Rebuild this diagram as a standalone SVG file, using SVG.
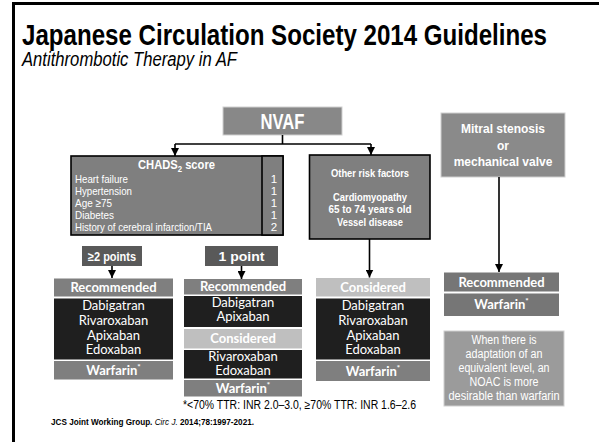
<svg xmlns="http://www.w3.org/2000/svg" width="599" height="442" viewBox="0 0 599 442">
  <defs>
    <marker id="ah" viewBox="0 0 8 8" refX="8" refY="4" markerWidth="8" markerHeight="8" markerUnits="userSpaceOnUse" orient="auto">
      <path d="M0,0 L8,4 L0,8 z" fill="#000"/>
    </marker>
    <style>
      .a { font-family: "Liberation Sans", Arial, sans-serif; }
      .c { font-family: Lato, "Open Sans", sans-serif; }
      .w { fill: #ffffff; }
      .b { font-weight: bold; }
      .m { text-anchor: middle; }
      .mid { fill: #7f7f7f; }
      .dark { fill: #1f1f1f; }
      .light { fill: #bfbfbf; }
      .edge { stroke: #cfcfcf; stroke-width: 1; }
      .conn { stroke: #000; stroke-width: 1.6; fill: none; }
      .drug { font-family: Lato, "Open Sans", sans-serif; font-size: 13px; fill: #ffffff; text-anchor: middle; }
      .hdr { font-family: Lato, "Open Sans", sans-serif; font-size: 13px; font-weight: bold; fill: #ffffff; text-anchor: middle; }
    </style>
  </defs>

  <rect x="0" y="0" width="599" height="442" fill="#ffffff"/>

  <g id="frame">
    <line x1="13" y1="3.5" x2="599" y2="3.5" stroke="#000" stroke-width="3"/>
    <line x1="13.5" y1="2" x2="13.5" y2="442" stroke="#000" stroke-width="3"/>
  </g>

  <g id="title">
    <text class="a b" x="22" y="45" font-size="30" fill="#000" textLength="525" lengthAdjust="spacingAndGlyphs">Japanese Circulation Society 2014 Guidelines</text>
    <text class="a" x="22" y="66" font-size="20" font-style="italic" fill="#000" textLength="215" lengthAdjust="spacingAndGlyphs">Antithrombotic Therapy in AF</text>
  </g>

  <g id="nvaf">
    <rect x="223" y="107" width="119" height="28" fill="#888888" class="edge"/>
    <text class="a b w m" x="282.5" y="128.5" font-size="22" textLength="44" lengthAdjust="spacingAndGlyphs">NVAF</text>
  </g>

  <g id="chads">
    <rect x="71" y="156" width="212" height="79" fill="#7f7f7f" stroke="#000" stroke-width="1.6"/>
    <rect x="262" y="156" width="21" height="79" fill="#7f7f7f" stroke="#000" stroke-width="1.6"/>
    <text class="a b w m" transform="translate(176.5,169) scale(0.86,1)" x="0" y="0" font-size="13">CHADS<tspan font-size="9" dy="3">2</tspan><tspan dy="-3"> score</tspan></text>
    <text class="a w" x="75" y="182.5" font-size="11.5" textLength="53" lengthAdjust="spacingAndGlyphs">Heart failure</text>
    <text class="a w" x="75" y="194.5" font-size="11.5" textLength="57" lengthAdjust="spacingAndGlyphs">Hypertension</text>
    <text class="a w" x="75" y="206.5" font-size="11.5" textLength="37" lengthAdjust="spacingAndGlyphs">Age ≥75</text>
    <text class="a w" x="75" y="218.5" font-size="11.5" textLength="39" lengthAdjust="spacingAndGlyphs">Diabetes</text>
    <text class="a w" x="75" y="230.5" font-size="11.5" textLength="137" lengthAdjust="spacingAndGlyphs">History of cerebral infarction/TIA</text>
    <text class="a w m" x="274" y="182.5" font-size="11.5">1</text>
    <text class="a w m" x="274" y="194.5" font-size="11.5">1</text>
    <text class="a w m" x="274" y="206.5" font-size="11.5">1</text>
    <text class="a w m" x="274" y="218.5" font-size="11.5">1</text>
    <text class="a w m" x="274" y="230.5" font-size="11.5">2</text>
  </g>

  <g id="other-risk">
    <rect x="309.5" y="155" width="120.5" height="84" fill="#7f7f7f" stroke="#000" stroke-width="1.6"/>
    <text class="a b w m" x="370" y="177" font-size="11" textLength="78" lengthAdjust="spacingAndGlyphs">Other risk factors</text>
    <text class="a b w m" x="370" y="200.5" font-size="11" textLength="74" lengthAdjust="spacingAndGlyphs">Cardiomyopathy</text>
    <text class="a b w m" x="370" y="213" font-size="11" textLength="83" lengthAdjust="spacingAndGlyphs">65 to 74 years old</text>
    <text class="a b w m" x="370" y="225.5" font-size="11" textLength="66" lengthAdjust="spacingAndGlyphs">Vessel disease</text>
  </g>

  <g id="mitral">
    <rect x="441" y="113" width="124" height="64" fill="#8a8a8a" class="edge"/>
    <text class="a b w m" x="503" y="133.3" font-size="12">Mitral stenosis</text>
    <text class="a b w m" x="503" y="150" font-size="12">or</text>
    <text class="a b w m" x="503" y="166" font-size="12">mechanical valve</text>
  </g>

  <g id="two-points">
    <rect x="82" y="246" width="60" height="20" fill="#595959"/>
    <text class="a b w m" x="112" y="260.5" font-size="12.5" textLength="48" lengthAdjust="spacingAndGlyphs">≥2 points</text>
  </g>

  <g id="one-point">
    <rect x="205" y="246" width="73" height="20" fill="#595959"/>
    <text class="a b w m" x="241.5" y="260.5" font-size="12.5" textLength="46" lengthAdjust="spacingAndGlyphs">1 point</text>
  </g>

  <g id="col1">
    <rect class="mid" x="54" y="278.5" width="119" height="18"/>
    <text class="hdr" x="113.5" y="291.5">Recommended</text>
    <rect class="dark" x="54" y="298.5" width="119" height="61"/>
    <text class="drug" x="113.5" y="310">Dabigatran</text>
    <text class="drug" x="113.5" y="325">Rivaroxaban</text>
    <text class="drug" x="113.5" y="339.5">Apixaban</text>
    <text class="drug" x="113.5" y="354">Edoxaban</text>
    <rect class="mid" x="54" y="361" width="119" height="18.5"/>
    <text class="hdr" x="113.5" y="374.5">Warfarin<tspan font-size="8" dy="-5">*</tspan></text>
  </g>

  <g id="col2">
    <rect class="mid" x="184" y="279" width="118" height="15.5"/>
    <text class="hdr" x="243" y="291">Recommended</text>
    <rect class="dark" x="184" y="296" width="118" height="31"/>
    <text class="drug" x="243" y="306.5">Dabigatran</text>
    <text class="drug" x="243" y="320.5">Apixaban</text>
    <rect class="light" x="184" y="329" width="118" height="19.5"/>
    <text class="hdr" x="243" y="343">Considered</text>
    <rect class="dark" x="184" y="350" width="118" height="28.5"/>
    <text class="drug" x="243" y="361">Rivaroxaban</text>
    <text class="drug" x="243" y="374.5">Edoxaban</text>
    <rect class="mid" x="184" y="380" width="118" height="16.5"/>
    <text class="hdr" x="243" y="392.5">Warfarin<tspan font-size="8" dy="-5">*</tspan></text>
  </g>

  <g id="col3">
    <rect class="light" x="316" y="278" width="114" height="18.5"/>
    <text class="hdr" x="373" y="291.5">Considered</text>
    <rect class="dark" x="316" y="298.5" width="114" height="61"/>
    <text class="drug" x="373" y="310">Dabigatran</text>
    <text class="drug" x="373" y="325">Rivaroxaban</text>
    <text class="drug" x="373" y="339.5">Apixaban</text>
    <text class="drug" x="373" y="354">Edoxaban</text>
    <rect class="mid" x="316" y="361" width="114" height="20"/>
    <text class="hdr" x="373" y="375.5">Warfarin<tspan font-size="8" dy="-5">*</tspan></text>
  </g>

  <g id="col4">
    <rect x="444" y="272.5" width="115" height="19" fill="#767676"/>
    <text class="hdr" x="501.5" y="287">Recommended</text>
    <rect x="444" y="293.5" width="115" height="22.5" fill="#767676"/>
    <text class="hdr" x="501.5" y="308.5">Warfarin<tspan font-size="8" dy="-5">*</tspan></text>
  </g>

  <g id="note">
    <rect x="444" y="331" width="120" height="75" fill="#9b9b9b" class="edge"/>
    <text class="a w m" x="504" y="344" font-size="12.5" textLength="65" lengthAdjust="spacingAndGlyphs">When there is</text>
    <text class="a w m" x="504" y="358" font-size="12.5" textLength="77" lengthAdjust="spacingAndGlyphs">adaptation of an</text>
    <text class="a w m" x="504" y="372" font-size="12.5" textLength="91" lengthAdjust="spacingAndGlyphs">equivalent level, an</text>
    <text class="a w m" x="504" y="386" font-size="12.5" textLength="69" lengthAdjust="spacingAndGlyphs">NOAC is more</text>
    <text class="a w m" x="504" y="400" font-size="12.5" textLength="111" lengthAdjust="spacingAndGlyphs">desirable than warfarin</text>
  </g>

  <g id="footnote">
    <text class="a" x="183" y="409" font-size="12.5" fill="#000" textLength="233" lengthAdjust="spacingAndGlyphs">*&lt;70% TTR: INR 2.0–3.0, ≥70% TTR: INR 1.6–2.6</text>
  </g>

  <g id="citation">
    <text class="a b" x="51" y="425" font-size="9.5" fill="#000" textLength="203" lengthAdjust="spacingAndGlyphs">JCS Joint Working Group. <tspan font-weight="normal" font-style="italic">Circ J.</tspan> 2014;78:1997-2021.</text>
  </g>

  <g id="connectors">
    <path class="conn" d="M282.5,135 V144"/>
    <path class="conn" d="M175,144 H371"/>
    <path class="conn" d="M175,144 V156" marker-end="url(#ah)"/>
    <path class="conn" d="M371,144 V155" marker-end="url(#ah)"/>
    <path class="conn" d="M369.5,239 V277.5" marker-end="url(#ah)"/>
    <path class="conn" d="M499,177 V272" marker-end="url(#ah)"/>
    <path class="conn" d="M112,266 V278" marker-end="url(#ah)"/>
    <path class="conn" d="M241.5,266 V279" marker-end="url(#ah)"/>
  </g>
</svg>
